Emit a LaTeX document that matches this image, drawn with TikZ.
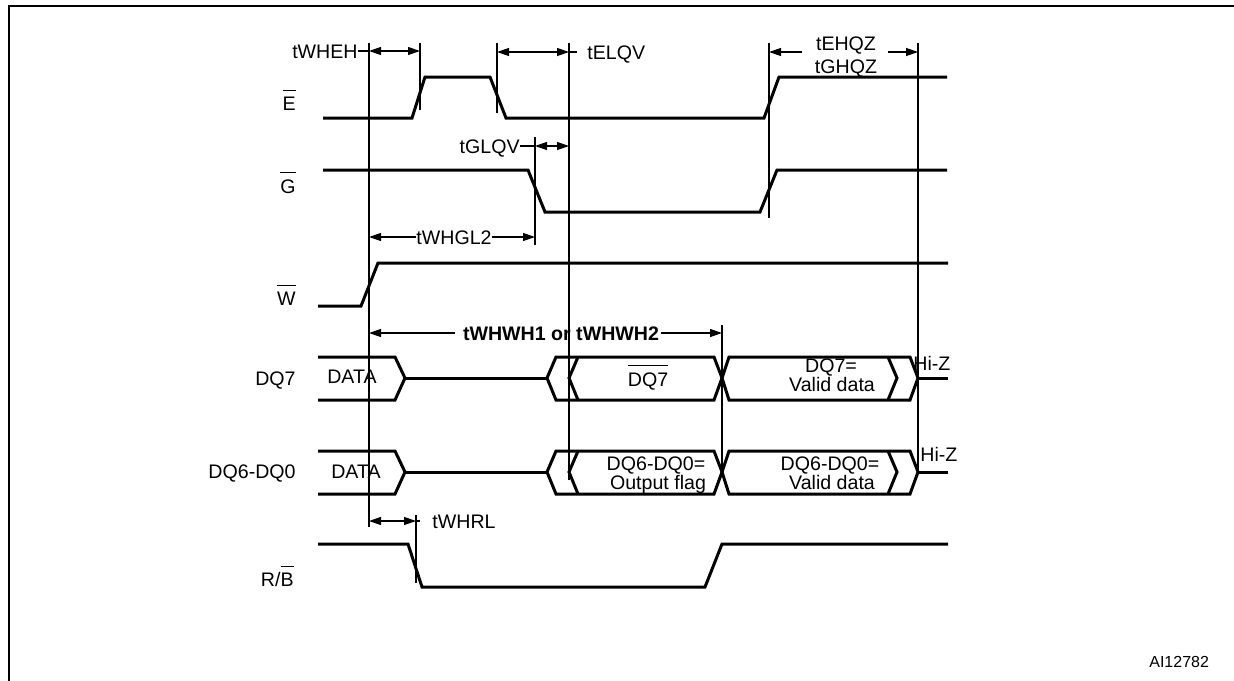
\documentclass[tikz,border=0pt]{standalone}
\usepackage{fontspec}
\setmainfont{Liberation Sans}
\usetikzlibrary{arrows.meta}
\newcommand{\sigfont}{\fontsize{9.8}{11}\selectfont}
\newcommand{\ovbar}[1]{\setbox0\hbox{#1}\rlap{\rule[\dimexpr\ht0+3pt\relax]{\wd0}{0.5pt}}\box0} % overline for active-low names
\tikzset{
frame/.style={line width=1.2pt}, % outer frame
sig/.style={line width=1.5pt}, % waveforms
tline/.style={line width=0.6pt}, % timing reference lines
tarrow/.style={tline, {Triangle[length=6pt,width=4pt]}-{Triangle[length=6pt,width=4pt]}},
tto/.style={tline, -{Triangle[length=6pt,width=4pt]}},
siglabel/.style={anchor=base east, inner sep=0pt}, % signal names on the left
tlabel/.style={inner sep=0pt, text height=7pt, text depth=0pt}, % timing parameter names
bustext/.style={anchor=base, inner sep=0pt}}

\begin{document}
\begin{tikzpicture}[x=0.5pt, y=-0.5pt, font=\sigfont]
    \useasboundingbox (0,0) rectangle (1234,680);
    \draw[frame] (9,690) -- (9,6) -- (1240,6);

    % signal names
    \node[siglabel] (E) at (296,110) {\ovbar{E}};
    \node[siglabel] (G) at (296,193) {\ovbar{G}};
    \node[siglabel] (W) at (296,305) {\ovbar{W}};
    \node[siglabel] (DQ7) at (296,385) {DQ7};
    \node[siglabel] (DQ6) at (296,478) {DQ6-DQ0};
    \node[siglabel] (RB) at (294,586) {R/\ovbar{B}};

    % waveforms
    \draw[sig] (323,118) -- (412,118) -- (425,77) -- (490,77) -- (506,118) -- (764,118) -- (779,77) -- (947,77);
    \draw[sig] (323,170) -- (528,170) -- (545,212) -- (760,212) -- (777,170) -- (947,170);
    \draw[sig] (318,306) -- (361,306) -- (378,263) -- (948,263);
    \draw[sig] (318,544) -- (408,544) -- (422,587) -- (705,587) -- (722,544) -- (948,544);

    % DQ7 bus
    \draw[sig] (318,357) -- (395,357) -- (405,378) -- (395,400) -- (318,400);
    \draw[sig] (405,378) -- (547,378);
    \draw[sig] (547,378) -- (556,357) -- (714,357) -- (722,378) -- (714,400) -- (556,400) -- cycle;
    \draw[sig] (722,378) -- (729,357) -- (910,357) -- (918,378) -- (910,400) -- (729,400) -- cycle;
    \draw[sig] (578,357) -- (569,378) -- (578,400);
    \draw[sig] (888,357) -- (897,378) -- (888,400);
    \draw[sig] (918,378) -- (948,378);

    % DQ6-DQ0 bus
    \draw[sig] (318,451) -- (395,451) -- (405,472) -- (395,494) -- (318,494);
    \draw[sig] (405,472) -- (547,472);
    \draw[sig] (547,472) -- (556,451) -- (714,451) -- (722,472) -- (714,494) -- (556,494) -- cycle;
    \draw[sig] (722,472) -- (729,451) -- (910,451) -- (918,472) -- (910,494) -- (729,494) -- cycle;
    \draw[sig] (578,451) -- (569,472) -- (578,494);
    \draw[sig] (888,451) -- (897,472) -- (888,494);
    \draw[sig] (918,472) -- (948,472);

    % bus contents
    \node[bustext] (d7a) at (352,383) {DATA};
    \node[bustext] (d7b) at (648,386) {\ovbar{DQ7}};
    \node[bustext] (d7c) at (831,372) {DQ7=};
    \node[bustext] (d7d) at (832,391) {Valid data};
    \node[bustext, anchor=base west] (hz7) at (913,370) {Hi-Z};
    \node[bustext] (d6a) at (356,478) {DATA};
    \node[bustext] (d6b) at (656,470) {DQ6-DQ0=};
    \node[bustext] (d6c) at (658,489) {Output flag};
    \node[bustext] (d6d) at (830,470) {DQ6-DQ0=};
    \node[bustext] (d6e) at (832,489) {Valid data};
    \node[bustext, anchor=base west] (hz6) at (920,461) {Hi-Z};

    % timing parameters
    \node[tlabel, anchor=east] (tWHEH) at (358,51) {tWHEH};
    \node[tlabel, anchor=west] (tELQV) at (587,52) {tELQV};
    \node[tlabel, anchor=east] (tGLQV) at (520,146) {tGLQV};
    \node[tlabel] (tWHGL2) at (454,237) {tWHGL2};
    \node[tlabel, font=\sigfont\bfseries] (tWHWH) at (561,333) {tWHWH1 or tWHWH2};
    \node[tlabel, anchor=west] (tWHRL) at (432,521) {tWHRL};
    \node[tlabel] (tEHQZ) at (846,43) {tEHQZ};
    \node[tlabel] (tGHQZ) at (846,66) {tGHQZ};

    % reference lines
    \coordinate (mWH) at (369,43);
    \coordinate (mEH) at (420,43);
    \coordinate (mEL) at (497,43);
    \coordinate (mGL) at (535,137);
    \coordinate (mQV) at (569,43);
    \coordinate (mWW) at (722,325);
    \coordinate (mEZ) at (769,43);
    \coordinate (mQZ) at (918,43);
    \coordinate (mRL) at (416,515);
    \draw[tline] (mWH) -- ++(0,484);
    \draw[tline] (mEH) -- ++(0,67);
    \draw[tline] (mEL) -- ++(0,70);
    \draw[tline] (mGL) -- ++(0,108);
    \draw[tline] (mQV) -- ++(0,437);
    \draw[tline] (mWW) -- ++(0,148);
    \draw[tline] (mEZ) -- ++(0,175);
    \draw[tline] (mQZ) -- ++(0,429);
    \draw[tline] (mRL) -- ++(0,68);

    % timing arrows
    \draw[tline] (tWHEH.east) -- (mWH |- tWHEH.east);
    \draw[tarrow] (mWH |- tWHEH.east) -- (mEH |- tWHEH.east);
    \draw[tarrow] (mEL |- tELQV.west) -- (mQV |- tELQV.west);
    \draw[tline] (mQV |- tELQV.west) -- ++(8,0);
    \draw[tline] (tGLQV.east) -- (mGL |- tGLQV.east);
    \draw[tarrow] (mGL |- tGLQV.east) -- (mQV |- tGLQV.east);
    \draw[tto] (tWHGL2.west) -- (mWH |- tWHGL2.west);
    \draw[tto] (tWHGL2.east) -- (mGL |- tWHGL2.east);
    \draw[tto] ([xshift=-4pt]tWHWH.west) -- (mWH |- tWHWH.west);
    \draw[tto] ([xshift=1pt]tWHWH.east) -- (mWW |- tWHWH.east);
    \draw[tarrow] (mWH |- tWHRL.west) -- (mRL |- tWHRL.west);
    \draw[tline] (mRL |- tWHRL.west) -- ++(4,0);
    \coordinate (aEZ) at (802,52);
    \coordinate (aQZ) at (888,52);
    \draw[tto] (aEZ) -- (mEZ |- aEZ);
    \draw[tto] (aQZ) -- (mQZ |- aQZ);

    \node[anchor=base east, font=\fontsize{8}{9.6}\selectfont] (fig) at (1216,667) {AI12782};

\end{tikzpicture}
\end{document}
